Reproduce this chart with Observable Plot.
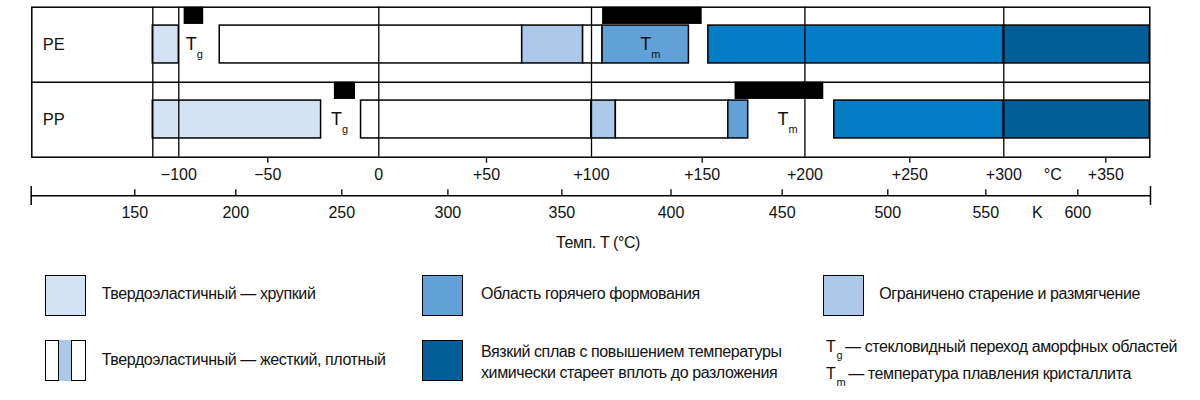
<!DOCTYPE html>
<html><head><meta charset="utf-8">
<script src="https://cdn.jsdelivr.net/npm/d3@7"></script>
<script src="https://cdn.jsdelivr.net/npm/@observablehq/plot@0.6"></script>
<style>
html,body{margin:0;padding:0;background:#fff;}
body{font-family:"Liberation Sans",Arial,sans-serif;color:#111;}
#wrap{position:relative;width:1200px;height:400px;overflow:hidden;}
#wrap svg{position:absolute;left:0;}
.lg{position:absolute;font-size:16px;letter-spacing:-0.4px;line-height:21px;white-space:nowrap;}
.sw{position:absolute;box-sizing:border-box;border:1.5px solid #000;width:41px;height:41px;}
.sub{font-size:11px;position:relative;top:7px;margin-left:1px;margin-right:3px;}
</style></head><body><div id="wrap"></div>
<script>
// ---------- data ----------
const rows = ["PE", "PP"];
const cTicks = [-100, -50, 0, 50, 100, 150, 200, 250, 300, 350];
const cTickLabels = ["−100", "−50", "0", "+50", "+100", "+150", "+200", "+250", "+300", "+350"];
const cGrid = [-100, 0, 100, 200, 300];
const cTickMarks = [-50, 50, 150, 250, 350];
const tMin = -114.5, tMax = 371.5;
const cUnitT = 324;
const kTicks = [150, 200, 250, 300, 350, 400, 450, 500, 550, 600];
const kMin = 98.7, kMax = 639.5;
const kUnitK = 578;

const states = ["brittle", "rigid", "aging", "forming", "melt", "decomp"];
const stateColors = ["#d5e2f4", "#ffffff", "#acc9ea", "#62a1d8", "#037dc6", "#035e98"];

const peFrom  = [-114.5, -77, 67, 96, 105, 153, 300];
const peTo    = [-100, 67, 96, 105, 144, 300, 371.5];
const peState = ["brittle", "rigid", "aging", "rigid", "forming", "melt", "decomp"];
const ppFrom  = [-114.5, -8, 100, 111, 162.7, 214, 300];
const ppTo    = [-26, 100, 111, 162.7, 172.4, 300, 371.5];
const ppState = ["brittle", "rigid", "aging", "rigid", "forming", "melt", "decomp"];

const trRow  = ["PE", "PP", "PE", "PP"];
const trFrom = [-97, -20, 105, 166];
const trTo   = [-86, -10.5, 150, 209];

const lblRow = ["PE", "PE", "PP", "PP"];
const lblSub = ["g", "m", "g", "m"];
const lblT   = [-90.5, 126.5, -17, 191.5];

// ---------- tables ----------
const segments = [
  ...peFrom.map((f, i) => ({row: "PE", from: f, to: peTo[i], state: peState[i]})),
  ...ppFrom.map((f, i) => ({row: "PP", from: f, to: ppTo[i], state: ppState[i]}))
];
const transitions = trRow.map((r, i) => ({row: r, from: trFrom[i], to: trTo[i]}));
const labels = lblRow.map((r, i) => ({row: r, sub: lblSub[i], t: lblT[i]}));
const ri = d => rows.indexOf(d.row);

// The printed axes are not evenly spaced: a piecewise warp (a d3 scale) reproduces them.
const cPix = [152.3, 178.3, 267.3, 378.3, 486, 591, 701.7, 804.4, 909.3, 1003.3, 1105.3, 1149.3];
const cWarp = d3.scaleLinear().domain([tMin, ...cTicks, tMax]).range(cPix);
const kPix = [30.7, 134.3, 235.3, 341.3, 447.4, 561.4, 670.5, 781.7, 887.3, 985.3, 1077.3, 1150];
const kWarp = d3.scaleLinear().domain([kMin, ...kTicks, kMax]).range(kPix);

const FONT = '"Liberation Sans",Arial,sans-serif';
const wrap = document.getElementById("wrap");

// ---------- main chart ----------
const H1 = 186;
const main = Plot.plot({
  width: 1200, height: H1,
  marginLeft: 31.3, marginRight: 50.7, marginTop: 6.7, marginBottom: H1 - 156.7,
  x: {transform: cWarp, domain: [cPix[0], cPix[cPix.length - 1]],
      range: [cPix[0], cPix[cPix.length - 1]], axis: null},
  y: {domain: [0, 2], range: [6.7, 156.7], axis: null},
  color: {domain: states, range: stateColors},
  style: {fontFamily: FONT, fontSize: "16px", color: "#111", background: "transparent"},
  marks: [
    Plot.rect(segments, {x1: "from", x2: "to", y1: d => ri(d) + 0.245, y2: d => ri(d) + 0.75,
      fill: "state", stroke: "#000", strokeWidth: 1.5}),
    Plot.ruleX([tMin, ...cGrid], {stroke: "#000", strokeWidth: 1.3}),
    Plot.ruleY([1], {stroke: "#000", strokeWidth: 1.5}),
    Plot.rect(transitions, {x1: "from", x2: "to", y1: d => ri(d), y2: d => ri(d) + 0.23, fill: "#000"}),
    Plot.frame({stroke: "#000", strokeWidth: 1.5}),
    Plot.text(rows, {y: (d, i) => i + 0.5, text: d => d, frameAnchor: "left", dx: 11,
      textAnchor: "start", fontSize: 16.5, fill: "#111"}),
    Plot.text(labels, {x: "t", y: d => ri(d) + 0.5, text: () => "T", textAnchor: "end", dx: 1,
      fontSize: 18, fill: "#111"}),
    Plot.text(labels, {x: "t", y: d => ri(d) + 0.5, text: "sub", textAnchor: "start", dx: 1, dy: 10,
      fontSize: 11, fill: "#111"}),
    Plot.ruleX(cTickMarks, {x: d => d, y1: 2, y2: 2.08, stroke: "#000", strokeWidth: 1.3}),
    Plot.text(cTicks, {x: d => d, y: 2, dy: 18, text: (d, i) => cTickLabels[i], fontSize: 16, fill: "#111"}),
    Plot.text(["°C"], {x: cUnitT, y: 2, dy: 18, text: d => d, fontSize: 16, fill: "#111"})
  ]
});
main.style.top = "0px";
wrap.appendChild(main);

// ---------- Kelvin axis ----------
const H2 = 44;
const kAxis = Plot.plot({
  width: 1200, height: H2,
  marginLeft: 30.7, marginRight: 50, marginTop: 0, marginBottom: 0,
  x: {transform: kWarp, domain: [kPix[0], kPix[kPix.length - 1]],
      range: [kPix[0], kPix[kPix.length - 1]], axis: null},
  y: {domain: [0, 1], range: [9.3, 3.3], axis: null},
  style: {fontFamily: FONT, fontSize: "16px", background: "transparent"},
  marks: [
    Plot.ruleY([0], {stroke: "#000", strokeWidth: 1.5}),
    Plot.ruleX(kTicks, {x: d => d, y1: 0, y2: 1, stroke: "#000", strokeWidth: 1.3}),
    Plot.ruleX([kMin, kMax], {x: d => d, y1: -1.6, y2: 1.6, stroke: "#000", strokeWidth: 1.5}),
    Plot.text(kTicks, {x: d => d, y: 0, dy: 17, text: d => String(d), fontSize: 16, fill: "#111"}),
    Plot.text(["K"], {x: kUnitK, y: 0, dy: 17, text: d => d, fontSize: 16, fill: "#111"})
  ]
});
kAxis.style.top = H1 + "px";
wrap.appendChild(kAxis);

// ---------- axis title & legend ----------
function el(html, css, cls) {
  const d = document.createElement("div");
  if (cls) d.className = cls;
  d.innerHTML = html;
  Object.assign(d.style, css);
  wrap.appendChild(d);
  return d;
}
el("Темп. T (°C)", {left: "0px", width: "1196px", top: "232px", textAlign: "center"}, "lg");

el("", {left: "44.7px", top: "275px", background: stateColors[0]}, "sw");
el("Твердоэластичный — хрупкий", {left: "101.7px", top: "282.5px"}, "lg");
el("", {left: "422.3px", top: "275px", background: stateColors[3]}, "sw");
el("Область горячего формования", {left: "481px", top: "282.5px"}, "lg");
el("", {left: "823px", top: "275px", background: stateColors[2]}, "sw");
el("Ограничено старение и размягчение", {left: "879.3px", top: "282.5px"}, "lg");

el('<div style="position:absolute;left:12px;top:-1.5px;width:14px;height:41px;box-sizing:border-box;border-left:1.5px solid #000;border-right:1.5px solid #000;background:' + stateColors[2] + '"></div>',
   {left: "44.7px", top: "340px", background: "#fff"}, "sw");
el("Твердоэластичный — жесткий, плотный", {left: "101.7px", top: "348.5px"}, "lg");
el("", {left: "422.3px", top: "340px", background: stateColors[5]}, "sw");
el("Вязкий сплав с повышением температуры<br>химически стареет вплоть до разложения", {left: "481px", top: "341px"}, "lg");
el('T<span class="sub">g</span>— стекловидный переход аморфных областей', {left: "826px", top: "336px"}, "lg");
el('T<span class="sub">m</span>— температура плавления кристаллита', {left: "826px", top: "363px"}, "lg");
</script>
</body></html>
